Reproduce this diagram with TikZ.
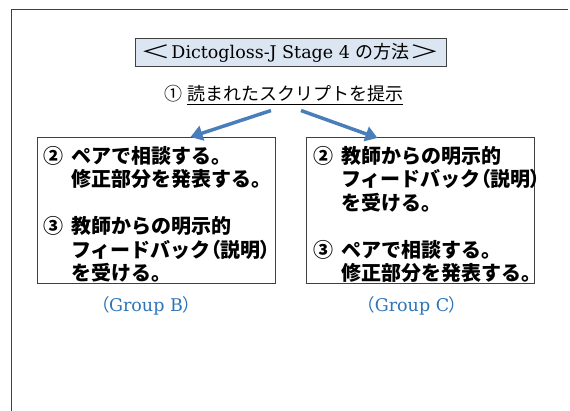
\documentclass[tikz,border=0pt]{standalone}
\usepackage{fontspec}
\setmainfont{DejaVu Serif}
\newfontfamily\jp{Noto Sans CJK JP}
\newfontfamily\jpp{Noto Sans CJK JP}[RawFeature=+palt]
\usetikzlibrary{arrows.meta,calc}
\definecolor{arrowblue}{HTML}{4A7EBB}
\definecolor{titlefill}{HTML}{DCE6F2}
\definecolor{groupblue}{HTML}{2E75B6}
\definecolor{framegray}{HTML}{404040}
\newcommand{\numlbl}[1]{\makebox[28pt][l]{#1}}
\newcommand{\indt}{\hspace*{28pt}}
\newcommand{\pl}[1]{{\jpp #1}}
\begin{document}
\begin{tikzpicture}[x=1pt,y=-1pt,
  outerline/.style={draw=framegray,line width=1.6pt},
  titlebox/.style={draw=framegray,line width=1pt,fill=titlefill,minimum width=311pt,minimum height=28pt,inner sep=0pt},
  stagebox/.style={draw=framegray,line width=1pt,inner sep=0pt,anchor=north west},
  boxtext/.style={anchor=north west,align=left,inner sep=0pt,font=\jp\bfseries\fontsize{20}{23.5}\selectfont},
  grouplabel/.style={text=groupblue,font=\fontsize{17.5}{22}\selectfont},
  arr/.style={draw=arrowblue,line width=3.5pt,-{Triangle[length=12pt,width=15pt]}}
]
\useasboundingbox (0,0) rectangle (570,411);
\fill[white] (0,0) rectangle (570,411);
% outer frame (top and left sides visible)
\coordinate (fTL) at (11.5,9.5);
\coordinate (fTR) at (568,9.5);
\coordinate (fBL) at (11.5,411);
\draw[outerline] (fBL) -- (fTL) -- (fTR);
% title
\node[titlebox,font=\fontsize{17.5}{20}\selectfont] (title) at (290.5,53) {{\jp\fontsize{18}{20}\selectfont\scalebox{1.7}[1]{＜}}Dictogloss-J Stage 4 {\jp\fontsize{18}{20}\selectfont の方法\scalebox{1.7}[1]{＞}}};
% subtitle
\node[inner sep=0pt,font=\jp\fontsize{18}{20}\selectfont] (sub) at (284,95) {① \underline{読まれたスクリプトを提示}};
% boxes
\node[stagebox,minimum width=238pt,minimum height=146pt] (boxB) at (37,137) {};
\node[stagebox,minimum width=228pt,minimum height=146pt] (boxC) at (306,137) {};
\node[boxtext] (txtB) at (43,146) {\numlbl{②}ペアで相談する。\\\indt 修正部分を発表する。\\ \\\numlbl{③}教師からの明示的\\\indt フィードバック\pl{（}説明\pl{）}\\\indt を受ける。};
\node[boxtext] (txtC) at (313,146) {\numlbl{②}教師からの明示的\\\indt フィードバック\pl{（}説明\pl{）}\\\indt を受ける。\\ \\\numlbl{③}ペアで相談する。\\\indt 修正部分を発表する。};
% arrows
\draw[arr] ($(sub.south)+(-13,6)$) -- ($(boxB.north)+(34,0)$);
\draw[arr] ($(sub.south)+(17,6)$) -- ($(boxC.north)+(-43,1)$);
% group labels
\node[grouplabel] (gB) at (146,306) {\pl{（}Group B\pl{）}};
\node[grouplabel] (gC) at (412,306) {\pl{（}Group C\pl{）}};
\end{tikzpicture}
\end{document}
